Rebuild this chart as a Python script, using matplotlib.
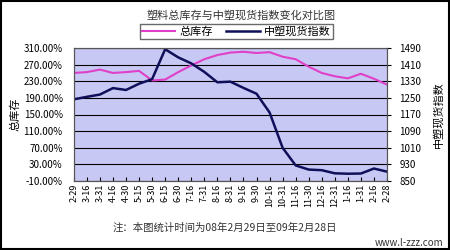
import matplotlib
matplotlib.use("Agg")
import matplotlib.pyplot as plt
from matplotlib.ticker import FuncFormatter

plt.rcParams['font.family'] = ['Noto Sans CJK SC', 'DejaVu Sans']

# x tick labels (date, month-day)
dates = ['2-29', '3-16', '3-31', '4-16', '4-30', '5-15', '5-30', '6-15', '6-30',
         '7-16', '7-31', '8-16', '8-31', '9-16', '9-30', '10-16', '10-31',
         '11-16', '11-30', '12-16', '12-31', '1-16', '1-31', '2-16', '2-28']

# total plastics inventory (%), left axis
inventory = [250, 252, 258, 250, 252, 255, 232, 234, 252, 268, 283, 293, 299,
             301, 298, 300, 289, 283, 265, 250, 242, 237, 248, 236, 222]

# China plastics spot index, right axis
spot_index = [1243, 1255, 1266, 1297, 1288, 1318, 1340, 1484, 1445, 1416, 1375,
              1325, 1328, 1298, 1270, 1180, 1010, 925, 905, 902, 887, 885, 886,
              910, 895]

x = list(range(len(dates)))

fig = plt.figure(figsize=(4.5, 2.5), dpi=100)
ax = fig.add_axes([0.164, 0.276, 0.696, 0.532])
ax.set_facecolor('#C8C8F4')

l1, = ax.plot(x, inventory, color='#E040C8', lw=1.5, label='总库存')
ax.set_ylim(-10, 310)
ax.set_yticks(range(-10, 311, 40))
ax.yaxis.set_major_formatter(FuncFormatter(lambda v, p: '%.2f%%' % v))
ax.grid(axis='y', color='black', lw=0.8)
ax.set_xlim(0, len(dates) - 1)
ax.set_xticks(x)
ax.set_xticklabels(dates, rotation=90, fontsize=6.5)
ax.tick_params(axis='x', direction='in', length=3, pad=2)
ax.tick_params(axis='y', length=0, labelsize=7, pad=8)
ax.set_ylabel('总库存', fontsize=8, labelpad=2)

ax2 = ax.twinx()
l2, = ax2.plot(x, spot_index, color='#10105A', lw=1.8, label='中塑现货指数')
ax2.set_ylim(850, 1490)
ax2.set_yticks(range(850, 1491, 80))
ax2.tick_params(axis='y', length=3, labelsize=7, pad=6)
ax2.set_ylabel('中塑现货指数', fontsize=8, labelpad=8)

for a in (ax, ax2):
    for s in a.spines.values():
        s.set_color('#555555')
        s.set_linewidth(0.8)

fig.text(0.535, 0.94, '塑料总库存与中塑现货指数变化对比图', ha='center', va='center',
         fontsize=8, color='#333333')
leg = fig.legend(handles=[l1, l2], loc='center', bbox_to_anchor=(0.525, 0.875),
                 ncol=2, fontsize=8, frameon=True, fancybox=False,
                 edgecolor='#444444', handlelength=3.0, borderpad=0.2,
                 columnspacing=1.2, handletextpad=0.4)
fig.text(0.5, 0.088, '注：本图统计时间为08年2月29日至09年2月28日', ha='center',
         va='center', fontsize=7.5, color='#333333')
fig.text(0.985, 0.03, 'www.l-zzz.com', ha='right', va='center', fontsize=7,
         color='#333333')

fig.patches.append(plt.Rectangle((0.002, 0.004), 0.996, 0.992, transform=fig.transFigure,
                                 fill=False, edgecolor='black', lw=1.5))

fig.savefig('out.png', dpi=100)
